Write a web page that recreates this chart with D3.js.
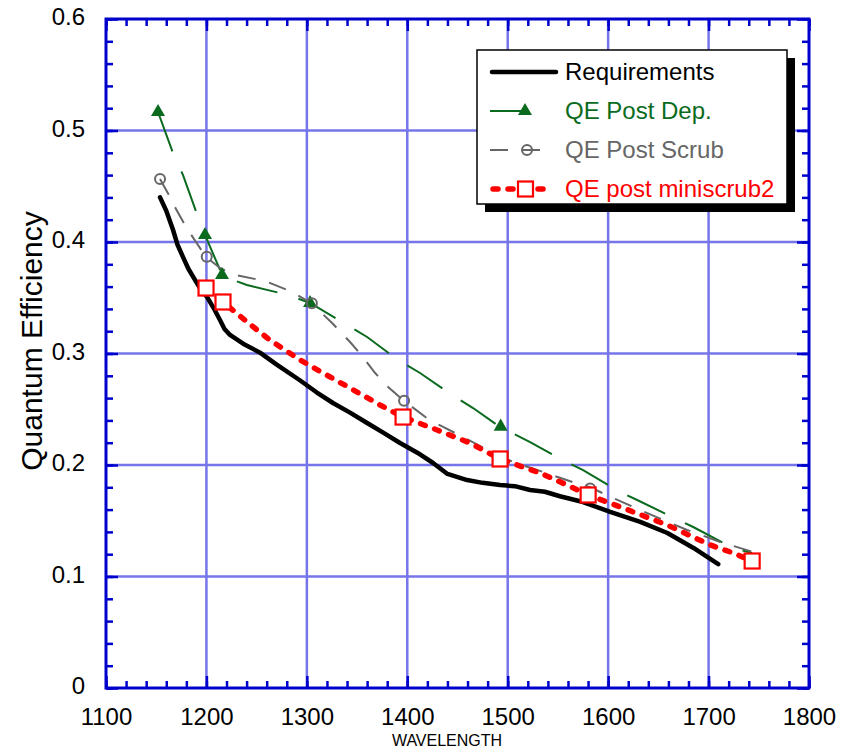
<!DOCTYPE html>
<html>
<head>
<meta charset="utf-8">
<script src="https://cdn.jsdelivr.net/npm/d3@7"></script>
<style>
  html, body { margin: 0; padding: 0; background: #fff; }
  svg { display: block; font-family: Arial, "Liberation Sans", sans-serif; }
</style>
</head>
<body>
<svg id="chart" width="848" height="751"></svg>
<script>
// ---- data ----------------------------------------------------------------
const seriesNames = ["Requirements", "QE Post Dep.", "QE Post Scrub", "QE post miniscrub2"];

// [wavelength, quantum efficiency]
const requirements = [
  [1153.8,0.440],[1160,0.428],[1166.7,0.411],[1171,0.398],[1176.7,0.3865],[1182,0.376],
  [1188.6,0.366],[1194,0.358],[1200.6,0.3507],[1207,0.341],[1213.5,0.330],[1218,0.322],
  [1223.5,0.3166],[1238,0.308],[1253,0.301],[1270,0.290],[1293,0.276],[1310,0.265],
  [1326,0.2556],[1343,0.247],[1360,0.2377],[1376,0.229],[1392.8,0.2197],[1410,0.211],
  [1425.7,0.2018],[1440,0.192],[1459.6,0.1865],[1475,0.184],[1492.4,0.182],[1507,0.181],
  [1522.3,0.1776],[1537,0.176],[1552,0.172],[1575,0.1668],[1602,0.158],[1632,0.149],
  [1659,0.139],[1685,0.1256],[1709.6,0.111]
];

const postDep = [
  [1151.8,0.5166],[1166.7,0.4798],[1176.7,0.460],[1191.6,0.4224],[1198.6,0.4063],
  [1213.5,0.375],[1215.5,0.3695],[1240.4,0.3614],[1281.3,0.3525],[1303.2,0.3453],
  [1340,0.3256],[1360,0.3148],[1390.8,0.2942],[1412.7,0.2825],[1447.6,0.261],
  [1465.5,0.2511],[1492.4,0.234],[1502.4,0.2296],[1522.3,0.2206],[1554.2,0.2045],
  [1575.1,0.1955],[1610,0.1767],[1628.9,0.1686],[1663.7,0.1534],[1684.7,0.1444],
  [1724.5,0.1256],[1743.4,0.121]
];
const postDepMarkers = [[1151.8,0.5166],[1198.6,0.4063],[1215.5,0.3704],[1303.2,0.3453],[1493,0.2344]];

const postScrub = [
  [1153.8,0.4565],[1162.7,0.442],[1169.7,0.4296],[1179.7,0.4135],[1189.6,0.400],
  [1199.6,0.3865],[1213.5,0.3767],[1228.5,0.3704],[1258.4,0.365],[1285.3,0.3552],
  [1304.2,0.3453],[1325.1,0.3274],[1343,0.3103],[1355,0.2978],[1368,0.2825],
  [1380.9,0.270],[1396.8,0.2574],[1420.7,0.2413],[1435.7,0.2341],[1451.6,0.2269],
  [1474.5,0.2161],[1505.4,0.2027],[1535.3,0.1937],[1567.1,0.1839],[1582,0.180],
  [1605,0.1704],[1631.9,0.1596],[1661.8,0.148],[1678.7,0.1417],[1711.6,0.131],
  [1744.4,0.122]
];
const postScrubMarkers = [[1153.8,0.4565],[1200.3,0.3868],[1305,0.345],[1396.8,0.2577],[1582,0.179]];

const miniscrub2 = [
  [1199.6,0.3587],[1216.5,0.3462],[1228.5,0.3372],[1240.4,0.3283],[1263.3,0.312],
  [1293.2,0.2942],[1316.1,0.2825],[1343,0.269],[1372.9,0.2538],[1395.8,0.243],
  [1429.7,0.2314],[1462.6,0.2197],[1492.4,0.2054],[1532.3,0.1928],[1559.2,0.182],
  [1580.1,0.1731],[1615,0.1614],[1658.8,0.1462],[1684.7,0.1354],[1701.6,0.1283],
  [1724.5,0.1211],[1743.4,0.1139]
];
const miniscrub2Markers = [[1199.6,0.3587],[1216.5,0.3462],[1395.8,0.243],[1492.4,0.2054],[1580.1,0.1731],[1743.4,0.1139]];

const xTickValues = [1100,1200,1300,1400,1500,1600,1700,1800];
const xTickLabels = ["1100","1200","1300","1400","1500","1600","1700","1800"];
const yTickValues = [0,0.1,0.2,0.3,0.4,0.5,0.6];
const yTickLabels = ["0","0.1","0.2","0.3","0.4","0.5","0.6"];
const xTitle = "WAVELENGTH";
const yTitle = "Quantum Efficiency";

// ---- layout ----------------------------------------------------------------
const L = 106, R = 809, T = 19, B = 688;
const axisBlue = "#0000cc", gridBlue = "#7676ea";
const green = "#0a6b1e", gray = "#666666", red = "#ff0000";

const svg = d3.select("#chart");
const x = d3.scaleLinear().domain([1100, 1800]).range([L, R]);
const y = d3.scaleLinear().domain([0, 0.6]).range([B, T]);

// grid
const grid = svg.append("g");
grid.selectAll("line.gx").data(xTickValues.slice(1, -1)).join("line")
  .attr("x1", d => x(d)).attr("x2", d => x(d)).attr("y1", T).attr("y2", B)
  .attr("stroke", gridBlue).attr("stroke-width", 2.5);
grid.selectAll("line.gy").data(yTickValues.slice(1, -1)).join("line")
  .attr("y1", d => y(d)).attr("y2", d => y(d)).attr("x1", L).attr("x2", R)
  .attr("stroke", gridBlue).attr("stroke-width", 2.5);

// ticks on all four sides, pointing inwards
const xMinor = d3.range(1100, 1801, 20);
const yMinor = d3.range(0, 31).map(i => i * 0.02);
function styleAxis(g) {
  g.select(".domain").remove();
  g.selectAll(".tick line").attr("stroke", axisBlue).attr("stroke-width", 2.5);
}
svg.append("g").attr("transform", `translate(0,${B})`)
  .call(d3.axisBottom(x).tickValues(xMinor).tickSize(-7).tickFormat("")).call(styleAxis);
svg.append("g").attr("transform", `translate(0,${T})`)
  .call(d3.axisTop(x).tickValues(xMinor).tickSize(-7).tickFormat("")).call(styleAxis);
svg.append("g").attr("transform", `translate(${L},0)`)
  .call(d3.axisLeft(y).tickValues(yMinor).tickSize(-7).tickFormat("")).call(styleAxis);
svg.append("g").attr("transform", `translate(${R},0)`)
  .call(d3.axisRight(y).tickValues(yMinor).tickSize(-7).tickFormat("")).call(styleAxis);

// major ticks with labels
const xAxis = svg.append("g").attr("transform", `translate(0,${B})`)
  .call(d3.axisBottom(x).tickValues(xTickValues).tickSize(-12).tickPadding(20)
    .tickFormat((d, i) => xTickLabels[i]))
  .call(styleAxis);
const yAxis = svg.append("g").attr("transform", `translate(${L},0)`)
  .call(d3.axisLeft(y).tickValues(yTickValues).tickSize(-12).tickPadding(21)
    .tickFormat((d, i) => yTickLabels[i]))
  .call(styleAxis);
svg.append("g").attr("transform", `translate(0,${T})`)
  .call(d3.axisTop(x).tickValues(xTickValues).tickSize(-12).tickFormat("")).call(styleAxis);
svg.append("g").attr("transform", `translate(${R},0)`)
  .call(d3.axisRight(y).tickValues(yTickValues).tickSize(-12).tickFormat("")).call(styleAxis);
[xAxis, yAxis].forEach(a => a.selectAll("text")
  .attr("fill", "#000").style("font-size", "24px").style("font-family", "Arial, 'Liberation Sans', sans-serif"));
yAxis.selectAll("text").attr("dy", "0.23em");

// frame
svg.append("rect").attr("x", L).attr("y", T).attr("width", R - L).attr("height", B - T)
  .attr("fill", "none").attr("stroke", axisBlue).attr("stroke-width", 3);

// titles
svg.append("text").attr("x", 447).attr("y", 746).attr("text-anchor", "middle")
  .style("font-size", "16px").text(xTitle);
svg.append("text").attr("transform", "translate(42,341) rotate(-90)").attr("text-anchor", "middle")
  .style("font-size", "30px").text(yTitle);

// ---- series ------------------------------------------------------------------
const line = d3.line().x(d => x(d[0])).y(d => y(d[1]));
const plot = svg.append("g");

plot.append("path").datum(requirements).attr("d", line)
  .attr("fill", "none").attr("stroke", "#000").attr("stroke-width", 4.5)
  .attr("stroke-linejoin", "round").attr("stroke-linecap", "round");

plot.append("path").datum(postDep).attr("d", line)
  .attr("fill", "none").attr("stroke", green).attr("stroke-width", 2)
  .attr("stroke-dasharray", "42,22");

plot.append("path").datum(postScrub).attr("d", line)
  .attr("fill", "none").attr("stroke", gray).attr("stroke-width", 2)
  .attr("stroke-dasharray", "18,14");

plot.append("path").datum(miniscrub2).attr("d", line)
  .attr("fill", "none").attr("stroke", red).attr("stroke-width", 5.5)
  .attr("stroke-dasharray", "5,10").attr("stroke-linecap", "round");

const tri = d3.symbol().type(d3.symbolTriangle).size(85);
plot.selectAll("path.tri").data(postDepMarkers).join("path")
  .attr("transform", d => `translate(${x(d[0])},${y(d[1])})`)
  .attr("d", tri).attr("fill", green);

plot.selectAll("circle.scrub").data(postScrubMarkers).join("circle")
  .attr("cx", d => x(d[0])).attr("cy", d => y(d[1])).attr("r", 5)
  .attr("fill", "none").attr("stroke", gray).attr("stroke-width", 2);

plot.selectAll("rect.mini").data(miniscrub2Markers).join("rect")
  .attr("x", d => x(d[0]) - 7.5).attr("y", d => y(d[1]) - 7.5)
  .attr("width", 15).attr("height", 15)
  .attr("fill", "#fff").attr("stroke", red).attr("stroke-width", 2.2);

// ---- legend ------------------------------------------------------------------
const lg = svg.append("g");
lg.append("rect").attr("x", 485).attr("y", 58).attr("width", 310).attr("height", 154).attr("fill", "#000");
lg.append("rect").attr("x", 477).attr("y", 50).attr("width", 310).attr("height", 154)
  .attr("fill", "#fff").attr("stroke", "#000").attr("stroke-width", 1.5);

const rowsY = [80, 119, 158, 197];
const colors = ["#000", green, gray, red];
lg.selectAll("text.lab").data(seriesNames).join("text")
  .attr("x", 565).attr("y", (d, i) => rowsY[i])
  .attr("fill", (d, i) => colors[i]).style("font-size", "24px").text(d => d);

const ly = i => rowsY[i] - 8;
lg.append("line").attr("x1", 492).attr("x2", 556).attr("y1", ly(0)).attr("y2", ly(0))
  .attr("stroke", "#000").attr("stroke-width", 4.5).attr("stroke-linecap", "round");
lg.append("line").attr("x1", 490).attr("x2", 525).attr("y1", ly(1)).attr("y2", ly(1))
  .attr("stroke", green).attr("stroke-width", 2);
lg.append("path").attr("d", tri).attr("transform", `translate(525,${ly(1)})`).attr("fill", green);
lg.append("line").attr("x1", 490).attr("x2", 541).attr("y1", ly(2)).attr("y2", ly(2))
  .attr("stroke", gray).attr("stroke-width", 2).attr("stroke-dasharray", "18,14");
lg.append("circle").attr("cx", 527).attr("cy", ly(2)).attr("r", 5)
  .attr("fill", "none").attr("stroke", gray).attr("stroke-width", 2);
lg.append("line").attr("x1", 493).attr("x2", 548).attr("y1", ly(3)).attr("y2", ly(3))
  .attr("stroke", red).attr("stroke-width", 5.5).attr("stroke-linecap", "round")
  .attr("stroke-dasharray", "5,10");
lg.append("rect").attr("x", 518).attr("y", ly(3) - 7.5).attr("width", 15).attr("height", 15)
  .attr("fill", "#fff").attr("stroke", red).attr("stroke-width", 2.2);
</script>
</body>
</html>
